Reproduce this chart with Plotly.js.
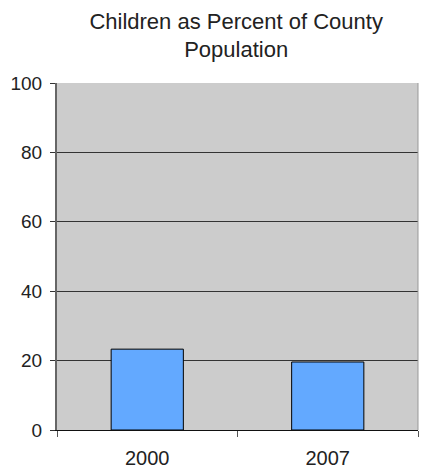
<!DOCTYPE html>
<html><head><meta charset="utf-8">
<script src="https://cdn.plot.ly/plotly-3.0.1.min.js"></script>
<style>body{margin:0;background:#fff}#c{width:424px;height:469px}</style>
</head><body><div id="c"></div>
<script>
const years = ["2000", "2007"];
const percentChildren = [23.3, 19.6];
const yTicks = [0, 20, 40, 60, 80, 100];

Plotly.newPlot("c", [{
  type: "bar",
  x: years,
  y: percentChildren,
  width: 0.4,
  marker: {color: "#63a9ff", line: {color: "#000", width: 1}},
  hoverinfo: "skip"
}], {
  width: 424, height: 469,
  margin: {l: 57, r: 6, t: 83, b: 39},
  paper_bgcolor: "#fff",
  plot_bgcolor: "#cccccc",
  font: {family: "Liberation Sans, Arial, sans-serif", size: 20, color: "#222"},
  title: {text: "Children as Percent of County<br>Population", x: 0.557, xanchor: "center",
          yref: "container", y: 0.939, yanchor: "middle",
          font: {size: 22, color: "#222"}},
  xaxis: {type: "category", showline: true, linecolor: "#111", linewidth: 1,
          ticks: "outside", tickson: "boundaries", ticklen: 6, tickcolor: "#555",
          showgrid: false, mirror: false, fixedrange: true, ticklabelstandoff: 10},
  yaxis: {range: [0, 100], tickvals: yTicks, showline: true, linecolor: "#666", linewidth: 2,
          ticks: "outside", ticklen: 5, tickcolor: "#333", gridcolor: "#333", gridwidth: 1,
          zeroline: false, fixedrange: true, ticklabelstandoff: 4, tickfont: {size: 19}},
  shapes: [{type: "line", xref: "paper", yref: "paper", x0: 1, x1: 1, y0: 0, y1: 1,
            line: {color: "#999", width: 1}}],
  bargap: 0.6,
  showlegend: false
}, {displayModeBar: false, staticPlot: true});
</script></body></html>
